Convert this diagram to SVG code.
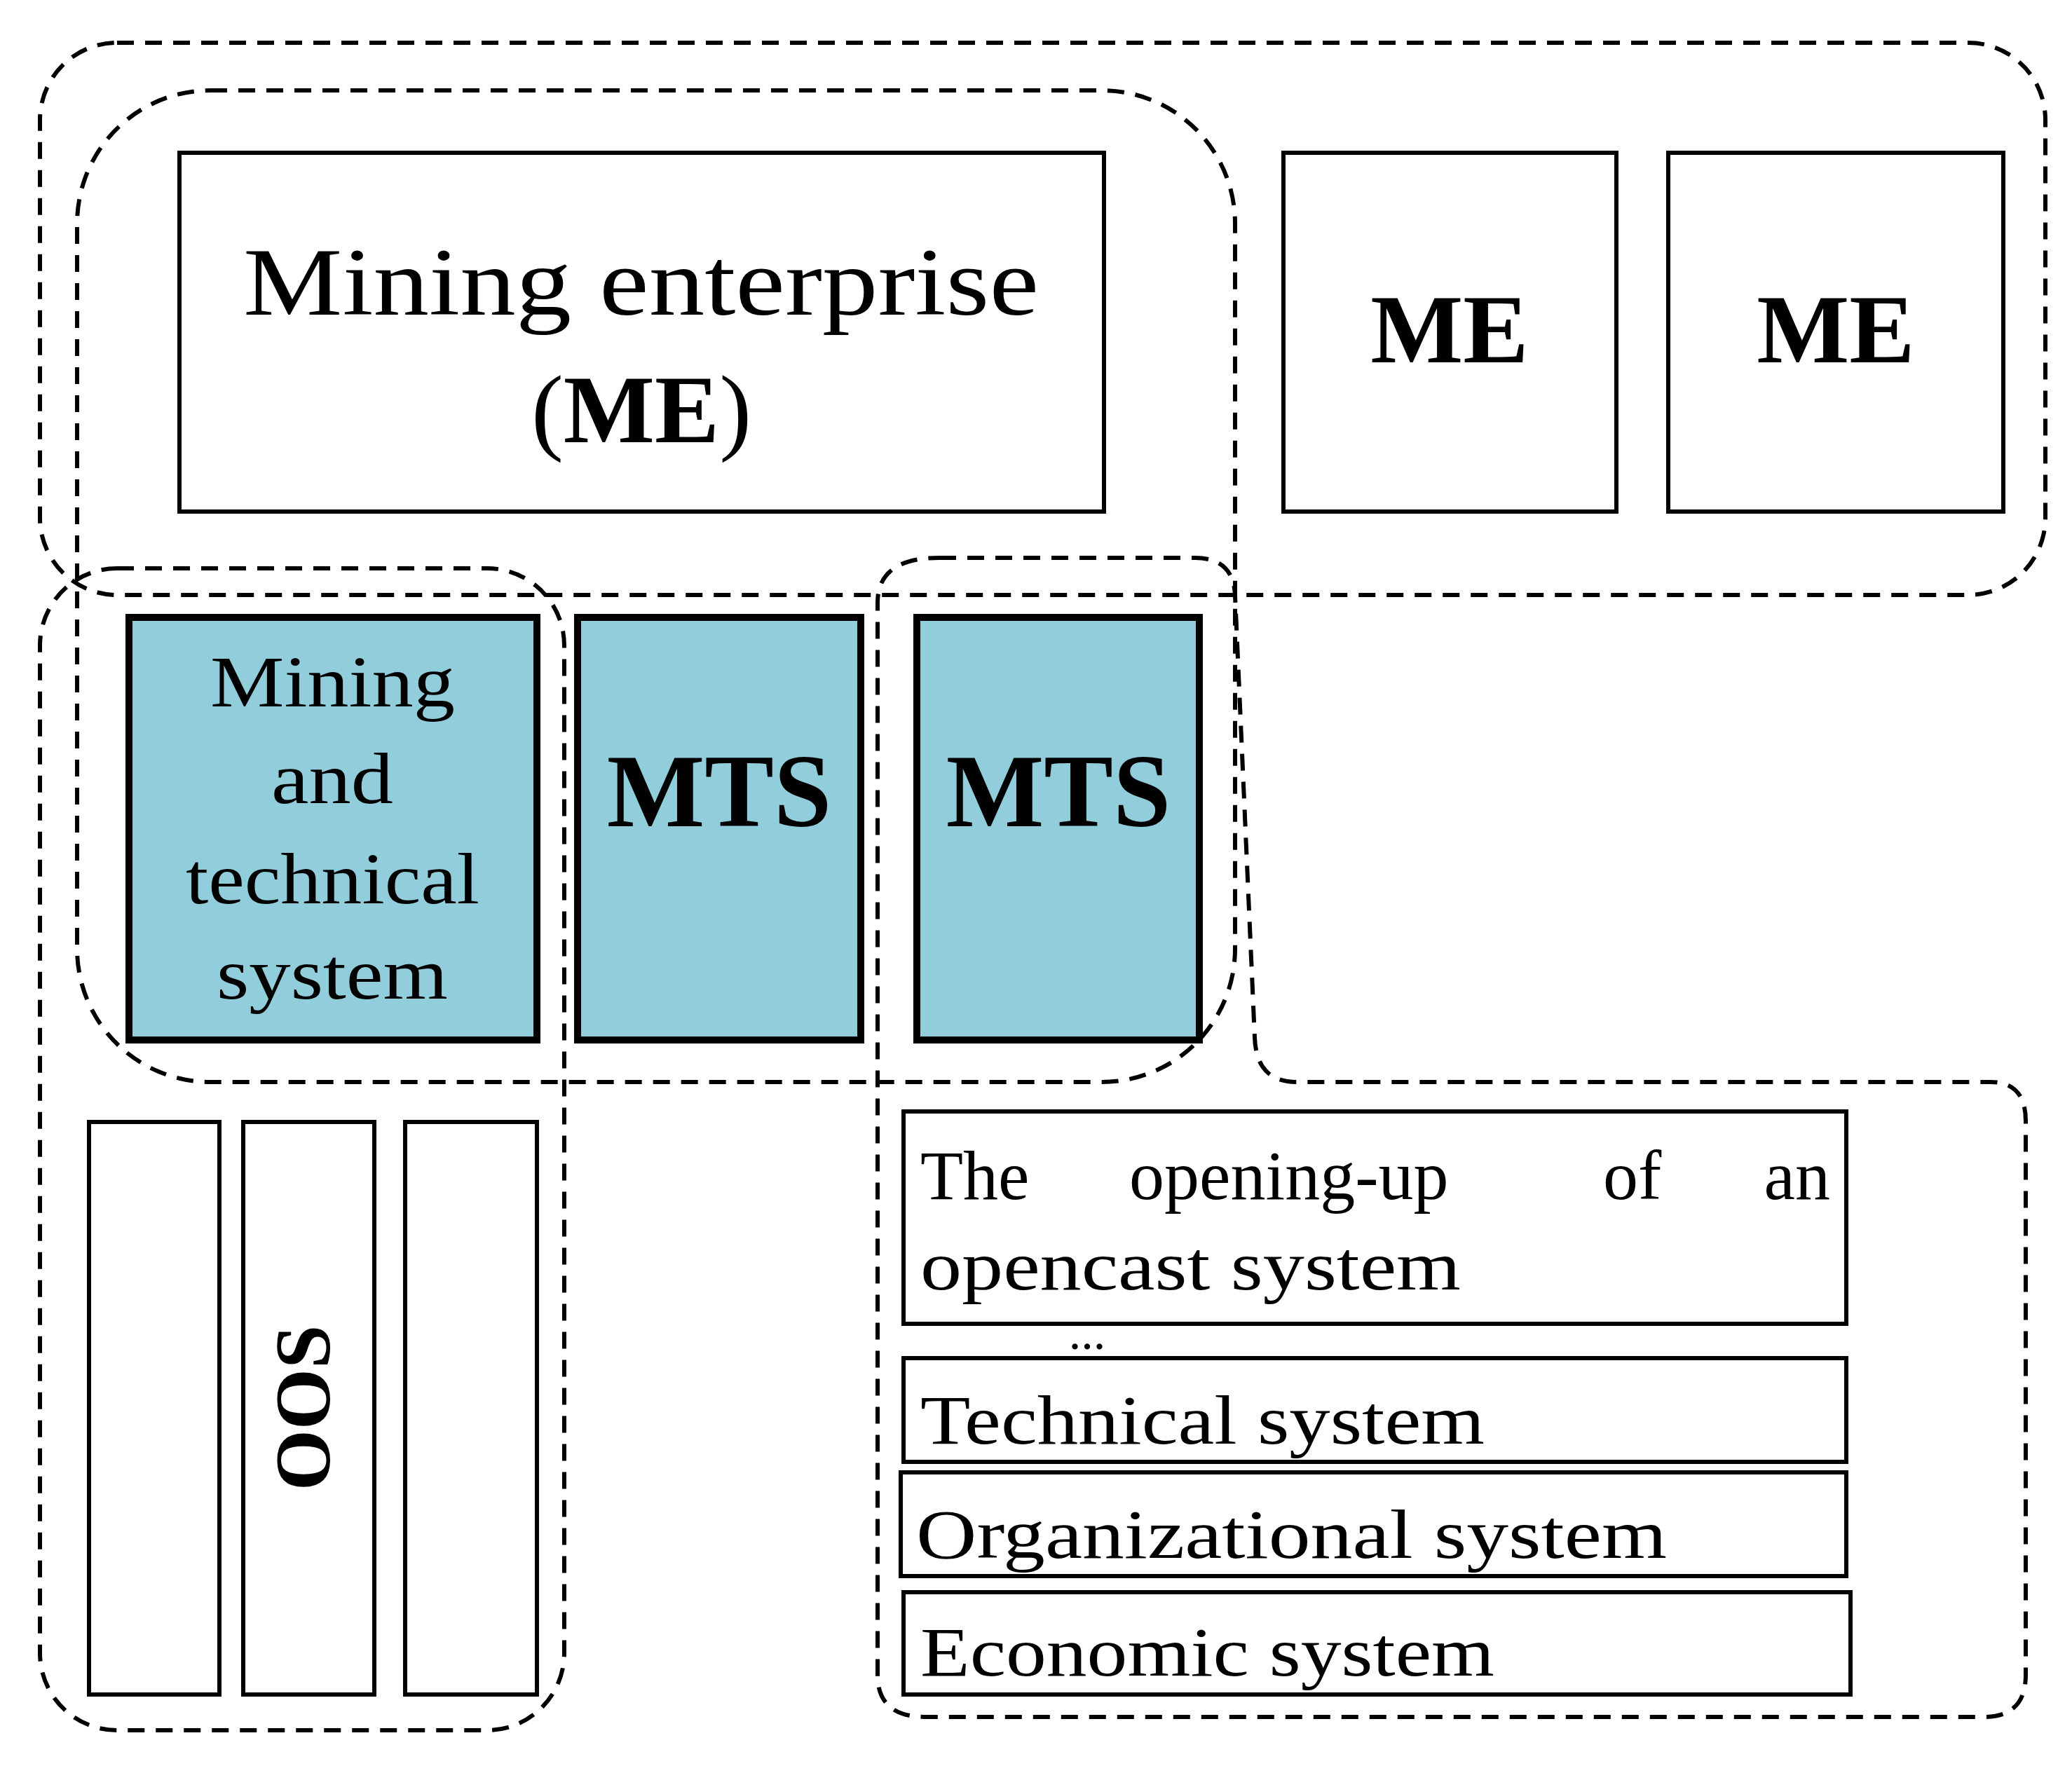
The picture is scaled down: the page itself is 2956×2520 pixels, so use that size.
<svg xmlns="http://www.w3.org/2000/svg" width="2956" height="2520" viewBox="0 0 2956 2520">
<style>
.d{fill:none;stroke:#000;stroke-width:6;stroke-dasharray:24,16}
.b{fill:#fff;stroke:#000;stroke-width:6}
.t{fill:#92CDDC;stroke:#000;stroke-width:10}
text{font-family:"Liberation Serif","DejaVu Serif",serif;fill:#000}
.bo{font-weight:bold}
</style>
<rect width="2956" height="2520" fill="#fff"/>
<g id="nodes">
<g id="me-main"><rect class="b" x="256" y="218" width="1319" height="512"/>
<text x="347" y="449" font-size="138" textLength="1135" lengthAdjust="spacingAndGlyphs">Mining enterprise</text>
<text x="915" y="631" font-size="138" text-anchor="middle">(<tspan class="bo">ME</tspan>)</text></g>
<g id="me2"><rect class="b" x="1831" y="218" width="475" height="512"/><text class="bo" x="2068" y="517" font-size="140" text-anchor="middle">ME</text></g>
<g id="me3"><rect class="b" x="2380" y="218" width="478" height="512"/><text class="bo" x="2619" y="517" font-size="140" text-anchor="middle">ME</text></g>
<g id="mts1"><rect class="t" x="184" y="881" width="582" height="603"/>
<text font-size="104" x="300" y="1008" textLength="349" lengthAdjust="spacingAndGlyphs">Mining</text>
<text font-size="104" x="387" y="1146" textLength="174" lengthAdjust="spacingAndGlyphs">and</text>
<text font-size="104" x="265" y="1289" textLength="419" lengthAdjust="spacingAndGlyphs">technical</text>
<text font-size="104" x="309" y="1425" textLength="330" lengthAdjust="spacingAndGlyphs">system</text></g>
<g id="mts2"><rect class="t" x="824" y="881" width="404" height="603"/><text class="bo" x="1026" y="1179" font-size="148" text-anchor="middle">MTS</text></g>
<g id="mts3"><rect class="t" x="1308" y="881" width="403" height="603"/><text class="bo" x="1510" y="1179" font-size="148" text-anchor="middle">MTS</text></g>
<g id="oos1"><rect class="b" x="127" y="1601" width="186" height="817"/></g>
<g id="oos2"><rect class="b" x="347" y="1601" width="187" height="817"/><text class="bo" transform="translate(470,2009) rotate(-90)" font-size="112" text-anchor="middle">OOS</text></g>
<g id="oos3"><rect class="b" x="578" y="1601" width="188" height="817"/></g>
<g id="opening"><rect class="b" x="1289" y="1586" width="1345" height="303"/>
<text font-size="100"><tspan x="1313" y="1711">The</tspan><tspan x="1611" y="1711">opening-up</tspan><tspan x="2287" y="1711">of</tspan><tspan x="2611" y="1711" text-anchor="end">an</tspan></text>
<text font-size="100" x="1313" y="1840" textLength="771" lengthAdjust="spacingAndGlyphs">opencast system</text>
<text x="1551" y="1925" font-size="70" text-anchor="middle">...</text></g>
<g id="tech"><rect class="b" x="1289" y="1938" width="1345" height="148"/><text x="1313" y="2060" font-size="100" textLength="805" lengthAdjust="spacingAndGlyphs">Technical system</text></g>
<g id="org"><rect class="b" x="1285" y="2101" width="1349" height="148"/><text x="1307" y="2223" font-size="100" textLength="1071" lengthAdjust="spacingAndGlyphs">Organizational system</text></g>
<g id="eco"><rect class="b" x="1289" y="2272" width="1351" height="146"/><text x="1313" y="2391" font-size="100" textLength="819" lengthAdjust="spacingAndGlyphs">Economic system</text></g>
</g>
<g id="connectors">
<rect class="d" x="57" y="61" width="2861" height="788" rx="110"/>
<rect class="d" x="110" y="129" width="1652" height="1415" rx="190"/>
<rect class="d" x="57" y="811" width="748" height="1658" rx="110"/>
<path class="d" d="M1340,796 H1705 Q1760,796 1762,850 L1790,1480 Q1792,1544 1850,1544 H2840 Q2890,1544 2890,1600 V2390 Q2890,2450 2830,2450 H1320 Q1252,2450 1252,2390 V860 Q1252,796 1340,796 Z"/>
</g>
</svg>
